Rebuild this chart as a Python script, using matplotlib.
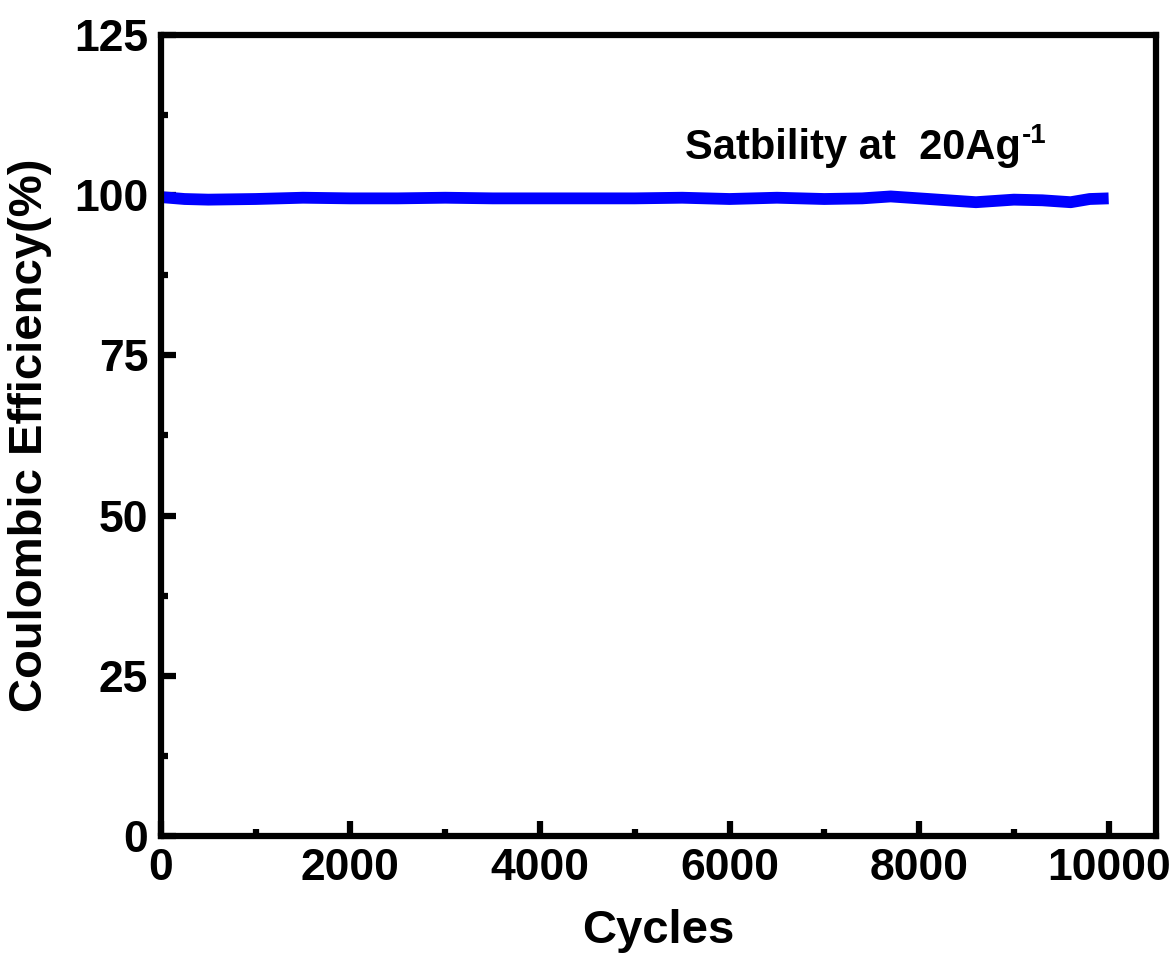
import matplotlib
matplotlib.use("Agg")
import matplotlib.pyplot as plt
from matplotlib.ticker import MultipleLocator

# cycle number vs coulombic efficiency
cycles = [0, 250, 500, 1000, 1500, 2000, 2500, 3000, 3500, 4000, 4500, 5000,
          5500, 6000, 6500, 7000, 7400, 7700, 8000, 8300, 8600, 9000, 9300,
          9600, 9800, 10000]
efficiency = [99.7, 99.4, 99.3, 99.4, 99.6, 99.5, 99.5, 99.6, 99.5, 99.5,
              99.5, 99.5, 99.6, 99.4, 99.6, 99.4, 99.5, 99.8, 99.5, 99.2,
              98.9, 99.3, 99.2, 98.9, 99.4, 99.5]

xticks = [0, 2000, 4000, 6000, 8000, 10000]
yticks = [0, 25, 50, 75, 100, 125]

plt.rcParams["font.family"] = ["Liberation Sans", "DejaVu Sans"]
plt.rcParams["font.weight"] = "bold"

fig = plt.figure(figsize=(11.74, 9.63), dpi=100)
ax = fig.add_axes([0.137, 0.1319, 0.8477, 0.8318])

ax.plot(cycles, efficiency, color="#0000ff", lw=8.5, solid_capstyle="butt")

# annotation with a small superscript "-1" hung off its top right corner
t = ax.text(5530, 105.6, "Satbility at  20Ag", fontsize=30, fontweight="bold")
ax.annotate("-1", xy=(1, 1), xycoords=t, xytext=(1, 4),
            textcoords="offset points", fontsize=20, fontweight="bold",
            ha="left", va="top")

ax.set_xlim(0, 10500)
ax.set_ylim(0, 125)
ax.set_xticks(xticks)
ax.set_yticks(yticks)
ax.xaxis.set_minor_locator(MultipleLocator(1000))
ax.yaxis.set_minor_locator(MultipleLocator(12.5))
ax.tick_params(which="both", direction="in", width=4.5, top=False, right=False,
               labelsize=32)
ax.tick_params(which="major", length=11, pad=9)
ax.tick_params(which="minor", length=5)
for lab in ax.get_xticklabels() + ax.get_yticklabels():
    lab.set_fontweight("bold")
for sp in ax.spines.values():
    sp.set_linewidth(4.5)

ax.set_xlabel("Cycles", fontsize=34, fontweight="bold", labelpad=14)
ax.set_ylabel("Coulombic Efficiency(%)", fontsize=34, fontweight="bold",
              labelpad=16)

fig.savefig("out.png", dpi=100)
